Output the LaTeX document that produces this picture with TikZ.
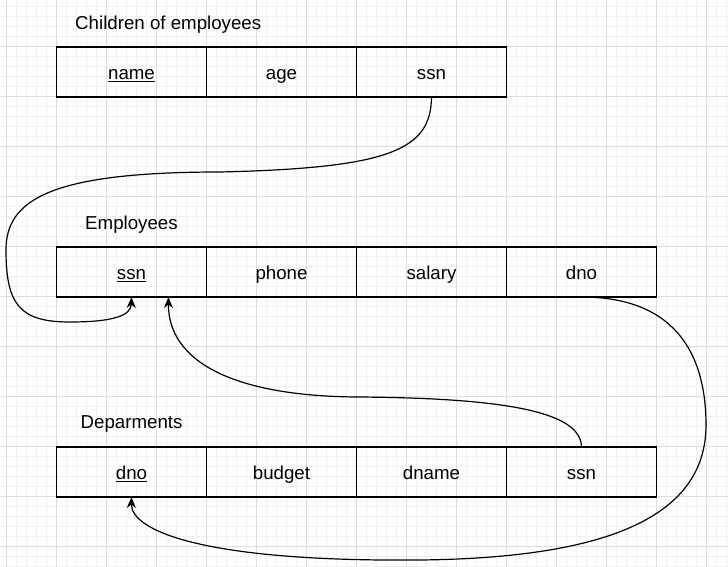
\documentclass[tikz,border=0pt]{standalone}
\usepackage{fontspec}
\setmainfont{Liberation Sans}
\usetikzlibrary{positioning,arrows.meta}
\definecolor{gridminor}{RGB}{240,240,240}
\definecolor{gridmajor}{RGB}{221,221,221}
\tikzset{
  cell/.style={draw, line width=1.2pt, minimum width=150pt, minimum height=50pt,
    inner sep=0pt, outer sep=0pt, text height=17pt, text depth=2.4pt,
    font=\fontsize{18.7}{22}\selectfont},
  tabletitle/.style={anchor=base west, inner sep=0pt, font=\fontsize{18.7}{22}\selectfont},
  link/.style={line width=1.2pt, -{Stealth[length=11pt,width=9pt,inset=3.5pt]}},
}

\begin{document}
\begin{tikzpicture}[x=1pt,y=-1pt]
  \useasboundingbox (0,0) rectangle (728,567);
  \fill[white] (0,0) rectangle (728,567);
  % grid
  \foreach \g in {0,...,72} {
    \draw[gridminor, line width=1pt] (6.5+10*\g,0) -- (6.5+10*\g,567);
  }
  \foreach \g in {0,...,56} {
    \draw[gridminor, line width=1pt] (0,6.5+10*\g) -- (728,6.5+10*\g);
  }
  \foreach \g in {0,...,14} {
    \draw[gridmajor, line width=1pt] (6.5+50*\g,0) -- (6.5+50*\g,567);
  }
  \foreach \g in {0,...,10} {
    \draw[gridmajor, line width=1pt] (0,46.5+50*\g) -- (728,46.5+50*\g);
  }

  % Children of employees
  \node[tabletitle] (t-children) at (75,29.3) {Children of employees}; %
  \node[cell] (c-name) at (131.5,72) {\underline{name}}; %
  \node[cell, right=0pt of c-name] (c-age) {age}; %
  \node[cell, right=0pt of c-age] (c-ssn) {ssn}; %

  % Employees
  \node[tabletitle] (t-employees) at (85,229.3) {Employees}; %
  \node[cell] (e-ssn) at (131.5,272) {\underline{ssn}}; %
  \node[cell, right=0pt of e-ssn] (e-phone) {phone}; %
  \node[cell, right=0pt of e-phone] (e-salary) {salary}; %
  \node[cell, right=0pt of e-salary] (e-dno) {dno}; %

  % Deparments
  \node[tabletitle] (t-deparments) at (80.5,428.3) {Deparments}; %
  \node[cell] (d-dno) at (131.5,472) {\underline{dno}}; %
  \node[cell, right=0pt of d-dno] (d-budget) {budget}; %
  \node[cell, right=0pt of d-budget] (d-dname) {dname}; %
  \node[cell, right=0pt of d-dname] (d-ssn) {ssn}; %

  % foreign keys
  \draw[link] (c-ssn.south) .. controls (431,150) and (390,168) .. (220,172)
    .. controls (50,172) and (6,200) .. (6,250)
    .. controls (6,305) and (20,322) .. (70,322)
    .. controls (115,322) and (131,315) .. (e-ssn.south); %
  \draw[link] (d-ssn.north) .. controls (581,415) and (520,398) .. (357,397)
    .. controls (230,396) and (168,360) .. ([xshift=37pt]e-ssn.south); %
  \draw[link] (e-dno.south) .. controls (680,297) and (706,360) .. (706,425)
    .. controls (706,520) and (600,558) .. (420,560)
    .. controls (200,562) and (131,530) .. (d-dno.south); %
\end{tikzpicture}
\end{document}
